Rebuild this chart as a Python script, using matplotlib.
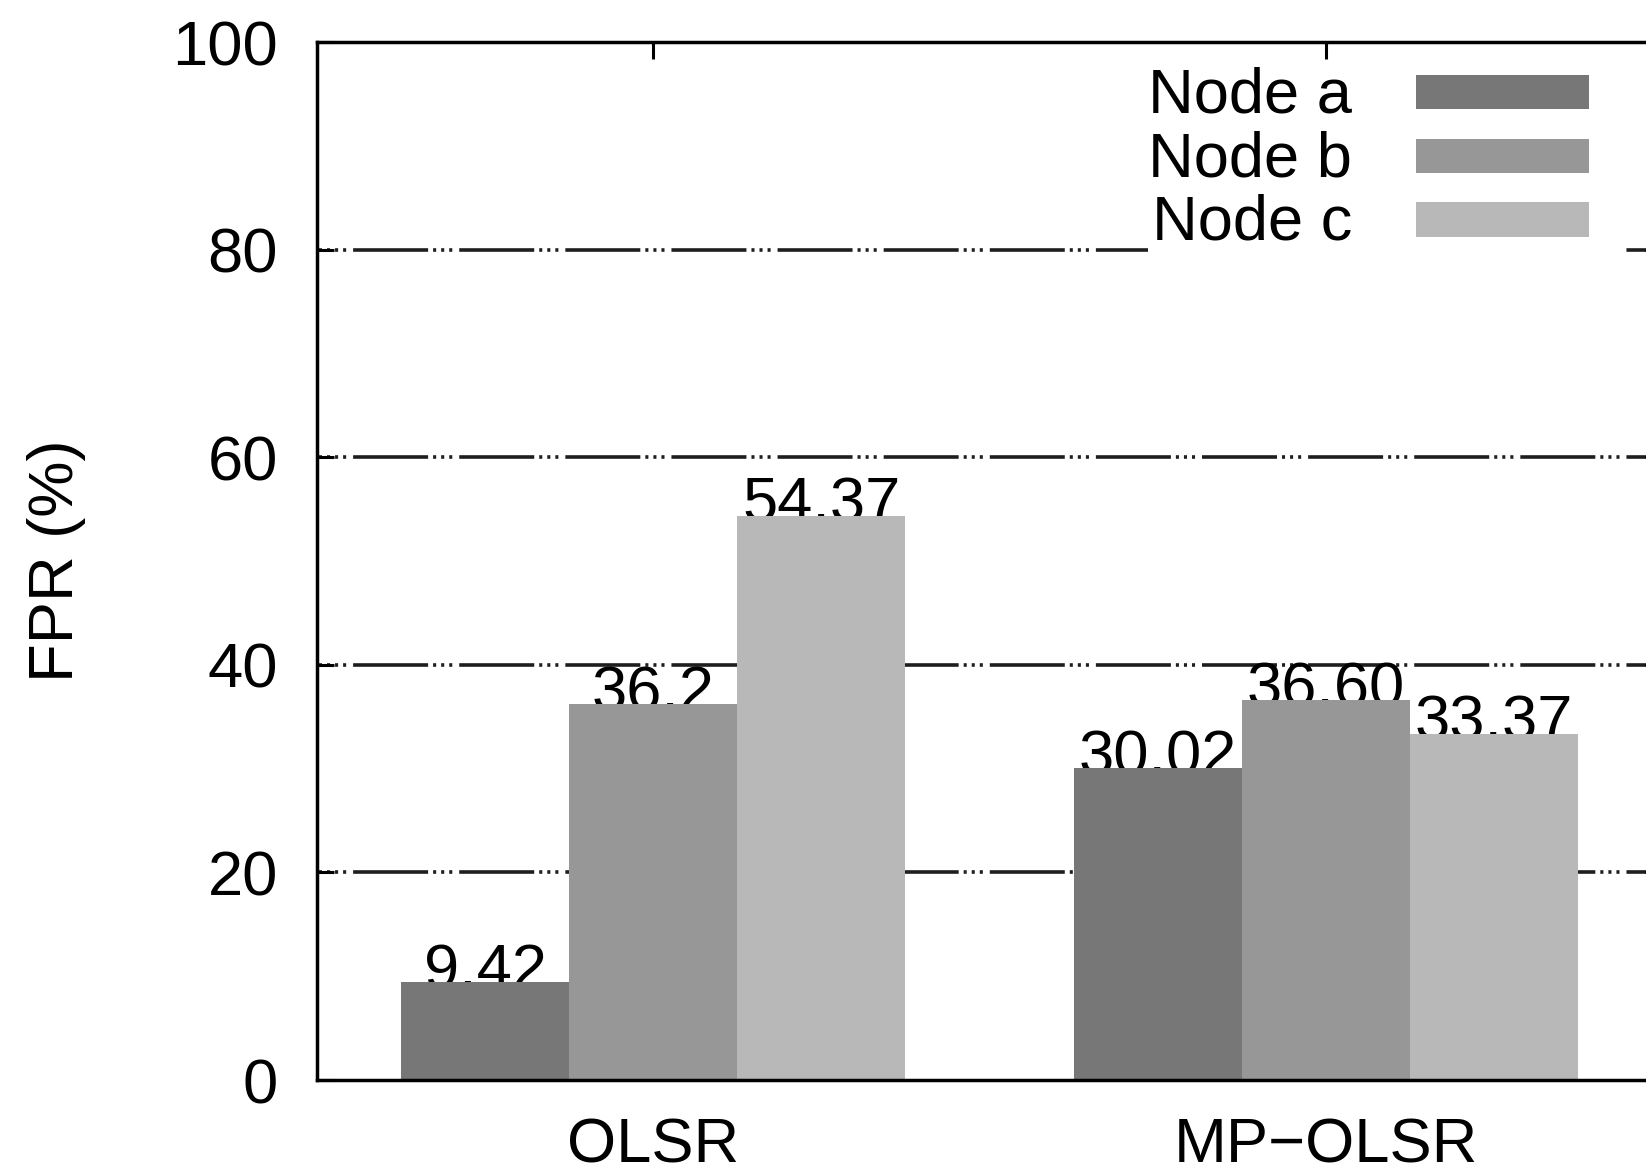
import matplotlib
matplotlib.use('Agg')
import matplotlib.pyplot as plt
from matplotlib.patches import Rectangle

# data
protocolos = ['OLSR', 'MP\u2212OLSR']
nos = ['Node a', 'Node b', 'Node c']
valores = {
    'Node a': [9.42, 30.02],
    'Node b': [36.2, 36.60],
    'Node c': [54.37, 33.37],
}
rotulos = {
    'Node a': ['9.42', '30.02'],
    'Node b': ['36.2', '36.60'],
    'Node c': ['54.37', '33.37'],
}
cores = {'Node a': '#777777', 'Node b': '#979797', 'Node c': '#b8b8b8'}

plt.rcParams['font.family'] = ['Liberation Sans', 'DejaVu Sans']
plt.rcParams['lines.scale_dashes'] = False
FS = 45.5

fig = plt.figure(figsize=(16.46, 11.74), dpi=100)
W, H = 1646, 1174
# eixo um pouco maior que a figura a direita (imagem original cortada)
ax = fig.add_axes([317 / W, (H - 1080) / H, 1345 / W, 1038 / H])
ax.set_axisbelow(True)

largura = 0.25
for i, no in enumerate(nos):
    xs = [g + (i - 1) * largura for g in range(len(protocolos))]
    ax.bar(xs, valores[no], width=largura, color=cores[no], edgecolor='none', zorder=2)
    for x, v, r in zip(xs, valores[no], rotulos[no]):
        ax.text(x, v - 0.6, r, ha='center', va='baseline', fontsize=FS, zorder=1.5)

ax.set_xlim(-0.5, len(protocolos) - 0.5)
ax.set_ylim(0, 100)
ax.set_yticks(range(0, 101, 20))
ax.set_xticks(range(len(protocolos)))
ax.set_xticklabels(protocolos)

ax.yaxis.grid(True, color='#1e1e1e', linewidth=2.6,
              linestyle=(50.4, (54, 3.6, 2.2, 3.6, 2.2, 3.6, 2.2, 5)))
# sem grade nas bordas (0 e 100)
linhas = ax.yaxis.get_gridlines()
linhas[0].set_visible(False)
linhas[-1].set_visible(False)

for s in ax.spines.values():
    s.set_linewidth(2.5)
ax.tick_params(direction='in', length=12, width=2.2, top=True, right=True,
               labelsize=FS)
ax.tick_params(axis='y', pad=28)
ax.tick_params(axis='x', pad=26)

fig.text(56 / W, 1 - 561 / H, 'FPR (%)', rotation=90, ha='center', va='center', fontsize=FS)

# legenda no estilo gnuplot (texto a esquerda, amostra a direita)
ax.add_patch(Rectangle((0.618, 0.795), 0.353, 0.188, transform=ax.transAxes,
                       facecolor='white', edgecolor='none', zorder=1))
topo = 0.968
passo = 0.0613
alt = 0.0328
for i, no in enumerate(nos):
    y0 = topo - i * passo - alt
    ax.add_patch(Rectangle((0.817, y0), 0.1286, alt, transform=ax.transAxes,
                           facecolor=cores[no], edgecolor='none', zorder=3))
    ax.text(0.7695, y0 - 0.003, no, transform=ax.transAxes, ha='right', va='baseline',
            fontsize=FS, zorder=3)

fig.savefig('out.png', dpi=100)
plt.close(fig)
